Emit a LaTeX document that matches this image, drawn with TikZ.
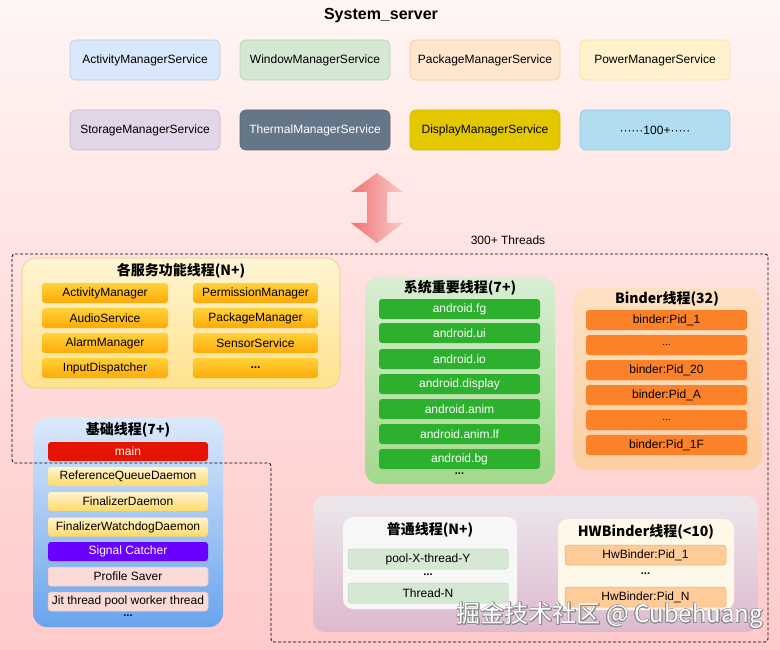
\documentclass[tikz,border=0pt]{standalone}
\usepackage{fontspec}
\setmainfont{Liberation Sans}
\newfontfamily\cjk{Noto Sans CJK SC}
\usepackage{contour}
\contourlength{0.6pt}
\definecolor{bgtop}{HTML}{FFF6F4}
\definecolor{bgbot}{HTML}{FFCACA}
\definecolor{orTop}{HTML}{FFD23A}
\definecolor{orBot}{HTML}{FFAA08}
\definecolor{grItem}{HTML}{2DB02D}
\definecolor{bnItem}{HTML}{FB8229}
\definecolor{yTop}{HTML}{FFF4D2}
\definecolor{yBot}{HTML}{FFD966}
\definecolor{cAMS}{HTML}{DAE8FC}\definecolor{sAMS}{HTML}{BACBE6}
\definecolor{cWMS}{HTML}{D5E8D4}\definecolor{sWMS}{HTML}{B6D4AC}
\definecolor{cPKG}{HTML}{FFE6CC}\definecolor{sPKG}{HTML}{F2CA9A}
\definecolor{cPWR}{HTML}{FFF2CC}\definecolor{sPWR}{HTML}{F2DFA4}
\definecolor{cSTO}{HTML}{E1D5E7}\definecolor{sSTO}{HTML}{CBB6D6}
\definecolor{cTHM}{HTML}{647687}\definecolor{sTHM}{HTML}{57687A}
\definecolor{cDSP}{HTML}{E3C800}\definecolor{sDSP}{HTML}{D2B700}
\definecolor{cHUN}{HTML}{B1DDF0}\definecolor{sHUN}{HTML}{92C4DE}
\definecolor{arL}{HTML}{EE7470}
\definecolor{arR}{HTML}{F9CACA}
\definecolor{g1Top}{HTML}{FFF5D4}\definecolor{g1Bot}{HTML}{FFE28C}\definecolor{g1S}{HTML}{EBCB7C}
\definecolor{g2Top}{HTML}{D8EED3}\definecolor{g2Bot}{HTML}{A3D98B}
\definecolor{g3Top}{HTML}{FDE1C4}\definecolor{g3Bot}{HTML}{FCCEA2}
\definecolor{g4Top}{HTML}{DCE9FB}\definecolor{g4Bot}{HTML}{68A4EC}
\definecolor{g5Top}{HTML}{EDE8EC}\definecolor{g5Bot}{HTML}{DDB9CF}
\definecolor{g6}{HTML}{F8F7F7}
\definecolor{g7}{HTML}{FDF8E8}
\definecolor{cMain}{HTML}{E51400}
\definecolor{cSig}{HTML}{6A00FF}
\definecolor{cPink}{HTML}{FADBD8}\definecolor{sPink}{HTML}{EEC3BF}
\definecolor{cLG}{HTML}{D5E8D4}\definecolor{sLG}{HTML}{BBD7B4}
\definecolor{cHW}{HTML}{FFCC99}\definecolor{sHW}{HTML}{E8AE6C}
\begin{document}
\begin{tikzpicture}[x=1pt,y=-1pt,
  every node/.style={font=\fontsize{12}{14}\selectfont, inner sep=0pt, outer sep=0pt},
  svc/.style={rounded corners=6pt, minimum width=150pt, minimum height=40pt, line width=0.6pt},
  grp/.style={rounded corners=14pt, line width=0.6pt},
  itm/.style={rounded corners=3pt, minimum height=20pt, line width=0.5pt},
  gtitle/.style={font=\cjk\bfseries\fontsize{14}{16}\selectfont},
  dots/.style={font=\bfseries\fontsize{11}{12}\selectfont},
  orit/.style={itm, top color=orTop, bottom color=orBot, minimum width=126pt},
  grit/.style={itm, fill=grItem, minimum width=161pt, text=white},
  bnit/.style={itm, fill=bnItem, minimum width=161pt},
  blit/.style={itm, minimum width=160pt, minimum height=19pt},
  ylw/.style={blit, top color=yTop, bottom color=yBot},
  dashline/.style={draw=black, line width=0.8pt, dash pattern=on 3pt off 2pt, rounded corners=3pt}
]
\useasboundingbox (0,0) rectangle (780,650);
\shade[top color=bgtop, bottom color=bgbot, middle color=bgbot!55!bgtop] (0,0) rectangle (780,650);

% title
\node[font=\bfseries\fontsize{16}{18}\selectfont] (title) at (381,16) {System\_server};

% service boxes
\node[svc, fill=cAMS, draw=sAMS] (ams) at (145,60) {ActivityManagerService};
\node[svc, fill=cWMS, draw=sWMS] (wms) at (315,60) {WindowManagerService};
\node[svc, fill=cPKG, draw=sPKG] (pms) at (485,60) {PackageManagerService};
\node[svc, fill=cPWR, draw=sPWR] (pwr) at (655,60) {PowerManagerService};
\node[svc, fill=cSTO, draw=sSTO] (sto) at (145,130) {StorageManagerService};
\node[svc, fill=cTHM, draw=sTHM, text=white] (thm) at (315,130) {ThermalManagerService};
\node[svc, fill=cDSP, draw=sDSP] (dsp) at (485,130) {DisplayManagerService};
\node[svc, fill=cHUN, draw=sHUN] (hun) at (655,130) {······100+·····};

% double arrow
\shade[left color=arL, right color=arR]
  (377,173) -- (403,192) -- (387,192) -- (387,223) -- (403,223) -- (377,243)
  -- (351,223) -- (367,223) -- (367,192) -- (351,192) -- cycle;
\node (thr) at (508,240) {300+ Threads};

% group 1: service threads
\node[grp, top color=g1Top, bottom color=g1Bot, draw=g1S, minimum width=318pt, minimum height=130pt] (g1) at (181,323) {};
\node[gtitle] (t1) at (181,271) {各服务功能线程(N+)};
\node[orit] (a1) at (105,293) {ActivityManager};
\node[orit] (a2) at (105,318) {AudioService};
\node[orit] (a3) at (105,343) {AlarmManager};
\node[orit] (a4) at (105,368) {InputDispatcher};
\node[orit, minimum width=125pt] (b1) at (255.5,293) {PermissionManager};
\node[orit, minimum width=125pt] (b2) at (255.5,318) {PackageManager};
\node[orit, minimum width=125pt] (b3) at (255.5,343) {SensorService};
\node[orit, minimum width=125pt, font=\bfseries\fontsize{12}{14}\selectfont] (b4) at (255.5,368) {...};

% group 2: important system threads
\node[grp, top color=g2Top, bottom color=g2Bot, minimum width=190pt, minimum height=207pt] (g2) at (460,380.5) {};
\node[gtitle] (t2) at (460,288) {系统重要线程(7+)};
\node[grit] (s1) at (459.5,309) {android.fg};
\node[grit] (s2) at (459.5,333) {android.ui};
\node[grit] (s3) at (459.5,359) {android.io};
\node[grit] (s4) at (459.5,384) {android.display};
\node[grit] (s5) at (459.5,409) {android.anim};
\node[grit] (s6) at (459.5,434) {android.anim.lf};
\node[grit] (s7) at (459.5,459) {android.bg};
\node[dots] (s8) at (459.5,474) {...};

% group 3: binder threads
\node[grp, top color=g3Top, bottom color=g3Bot, minimum width=189pt, minimum height=182pt] (g3) at (667.5,379) {};
\node[gtitle] (t3) at (667,299) {Binder线程(32)};
\node[bnit] (n1) at (666.5,320) {binder:Pid\_1};
\node[bnit, font=\fontsize{10}{12}\selectfont] (n2) at (666.5,345) {...};
\node[bnit] (n3) at (666.5,370) {binder:Pid\_20};
\node[bnit] (n4) at (666.5,395) {binder:Pid\_A};
\node[bnit, font=\fontsize{10}{12}\selectfont] (n5) at (666.5,420) {...};
\node[bnit] (n6) at (666.5,445) {binder:Pid\_1F};

% group 4: basic threads
\node[grp, top color=g4Top, bottom color=g4Bot, minimum width=190pt, minimum height=209pt] (g4) at (128,522.5) {};
\node[gtitle] (t4) at (128,430) {基础线程(7+)};
\node[blit, fill=cMain, text=white] (m1) at (128,451.5) {main};
\node[ylw] (m2) at (128,476.5) {ReferenceQueueDaemon};
\node[ylw] (m3) at (128,501.5) {FinalizerDaemon};
\node[ylw] (m4) at (128,527) {FinalizerWatchdogDaemon};
\node[blit, fill=cSig, text=white] (m5) at (128,551.5) {Signal Catcher};
\node[blit, fill=cPink, draw=sPink] (m6) at (128,576.5) {Profile Saver};
\node[blit, fill=cPink, draw=sPink] (m7) at (128,601.5) {Jit thread pool worker thread};
\node[dots] (m8) at (128,616) {...};

% group 5: bottom container
\node[grp, rounded corners=12pt, top color=g5Top, bottom color=g5Bot, minimum width=445pt, minimum height=136pt] (g5) at (535.5,564) {};
\node[grp, rounded corners=10pt, fill=g6, minimum width=174pt, minimum height=92pt] (g6) at (430,563) {};
\node[gtitle] (t6) at (430,530) {普通线程(N+)};
\node[itm, fill=cLG, draw=sLG, minimum width=160pt] (p1) at (428,559) {pool-X-thread-Y};
\node[dots] (p2) at (428,575) {...};
\node[itm, fill=cLG, draw=sLG, minimum width=160pt] (p3) at (428,593) {Thread-N};

\node[grp, rounded corners=10pt, fill=g7, minimum width=176pt, minimum height=91pt] (g7) at (646,564.5) {};
\node[gtitle] (t7) at (646,532) {HWBinder线程(<10)};
\node[itm, fill=cHW, draw=sHW, minimum width=161pt] (h1) at (645.5,555) {HwBinder:Pid\_1};
\node[dots] (h2) at (645.5,574) {...};
\node[itm, fill=cHW, draw=sHW, minimum width=161pt] (h3) at (645.5,597) {HwBinder:Pid\_N};

% dashed region
\draw[dashline] (12,254) -- (768,254) -- (768,642) -- (271,642) -- (271,463) -- (12,463) -- cycle;

% watermark
\node[anchor=east, font=\cjk\fontsize{24}{27}\selectfont] (wm) at (763,616)
  {\color{white}\contour{black!45}{掘金技术社区 @ Cubehuang}};
\end{tikzpicture}
\end{document}
